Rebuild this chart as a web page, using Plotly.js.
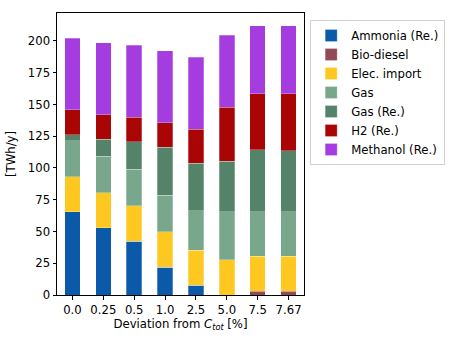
<!DOCTYPE html>
<html>
<head>
<meta charset="utf-8">
<script src="https://cdn.plot.ly/plotly-3.0.1.min.js"></script>
<style>html,body{margin:0;padding:0;background:#fff;}#chart{width:457px;height:343px;}</style>
</head>
<body>
<div id="chart"></div>
<script>
const categories = ["0.0", "0.25", "0.5", "1.0", "2.5", "5.0", "7.5", "7.67"];
const seriesNames = ["Ammonia (Re.)", "Bio-diesel", "Elec. import", "Gas", "Gas (Re.)", "H2 (Re.)", "Methanol (Re.)"];
const ammoniaRe = [65.6, 52.8, 42.5, 21.8, 7.6, 0, 0, 0];
const bioDiesel = [0, 0, 0, 0, 0, 0, 2.9, 2.9];
const elecImport = [27.6, 27.8, 27.8, 27.8, 27.8, 27.6, 27.8, 27.8];
const gas = [28.3, 28.8, 28.6, 28.9, 31.0, 37.8, 34.7, 34.7];
const gasRe = [4.7, 13.2, 21.6, 37.8, 37.3, 39.9, 49.0, 48.2];
const h2Re = [19.5, 19.4, 19.4, 19.4, 26.8, 42.5, 44.1, 44.9];
const methanolRe = [56.4, 56.7, 56.7, 56.7, 56.6, 56.6, 53.3, 53.3];
const colors = ["#0b5aaa", "#8f4a55", "#fec820", "#79a78b", "#55836a", "#aa0505", "#a43ce0"];

const allSeries = [ammoniaRe, bioDiesel, elecImport, gas, gasRe, h2Re, methanolRe];
const traces = allSeries.map((vals, i) => ({
  type: "bar",
  name: seriesNames[i],
  x: categories,
  y: vals,
  marker: {color: colors[i], line: {color: "rgba(255,255,255,0.45)", width: 0.6}},
  hoverinfo: "name+y"
}));

const FS = 11.7;
const layout = {
  width: 457,
  height: 343,
  barmode: "stack",
  bargap: 0.5,
  margin: {l: 57, r: 150, t: 13, b: 48},
  paper_bgcolor: "#fff",
  plot_bgcolor: "#fff",
  font: {family: "DejaVu Sans", size: FS, color: "#000"},
  showlegend: true,
  legend: {
    x: 1.025, y: 0.975, xanchor: "left", yanchor: "top",
    bordercolor: "#d0d0d0", borderwidth: 1,
    font: {size: FS, family: "DejaVu Sans"},
    traceorder: "normal",
    tracegroupgap: 0
  },
  xaxis: {
    type: "category",
    range: [-0.5, 7.5],
    showline: true, linecolor: "#000", linewidth: 1, mirror: true,
    ticks: "outside", ticklen: 3.5, tickcolor: "#000",
    showgrid: false, zeroline: false,
    tickfont: {size: FS},
    title: {text: "Deviation from <i>C</i><sub><i>tot</i></sub> [%]", font: {size: FS}, standoff: 3}
  },
  yaxis: {
    range: [0, 222],
    tickvals: [0, 25, 50, 75, 100, 125, 150, 175, 200],
    showline: true, linecolor: "#000", linewidth: 1, mirror: true,
    ticks: "outside", ticklen: 3.5, tickcolor: "#000",
    showgrid: false, zeroline: false,
    tickfont: {size: FS},
    title: {text: "[TWh/y]", font: {size: FS}, standoff: 9}
  }
};

Plotly.newPlot("chart", traces, layout, {displayModeBar: false, staticPlot: true});
</script>
</body>
</html>
